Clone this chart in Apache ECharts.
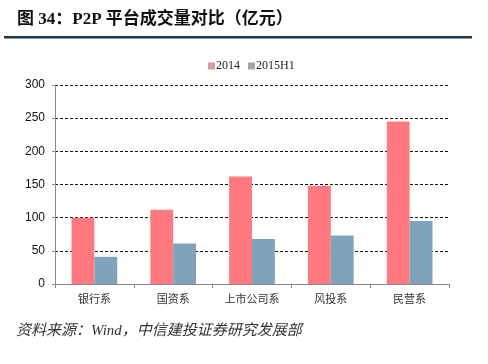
<!DOCTYPE html>
<html>
<head>
<meta charset="utf-8">
<script src="https://cdn.jsdelivr.net/npm/echarts@6/dist/echarts.min.js"></script>
<style>
html,body{margin:0;padding:0;background:#fff;}
#c{width:488px;height:364px;}
</style>
</head>
<body>
<div id="c"></div>
<script>
var categories = ['银行系', '国资系', '上市公司系', '风投系', '民营系'];
var seriesNames = ['2014', '2015H1'];
var values2014 = [100, 112, 162, 148, 245];
var values2015H1 = [41, 61, 68, 73, 95];
var yTicks = [0, 50, 100, 150, 200, 250, 300];

var chart = echarts.init(document.getElementById('c'), null, {renderer: 'canvas'});
var option = {
  backgroundColor: '#ffffff',
  animation: false,
  graphic: [
    {type: 'text', left: 17, top: 11, style: {text: '图 34：P2P 平台成交量对比（亿元）', font: 'bold 17px "Liberation Serif", "Noto Sans CJK SC", serif', fill: '#111'}},
    {type: 'rect', shape: {x: 4, y: 36, width: 468, height: 2.5}, style: {fill: '#1e3a4a'}},
    {type: 'text', left: 16, top: 324, style: {text: '资料来源：Wind，中信建投证券研究发展部', font: 'italic 15px "Liberation Serif", "Noto Sans CJK SC", serif', fill: '#333'}}
  ],
  legend: {
    top: 55, left: 203,
    itemWidth: 7, itemHeight: 7, itemGap: 8,
    icon: 'rect',
    textStyle: {fontFamily: '"Liberation Serif", serif', fontSize: 12, color: '#222', padding: [0, 0, 0, -4]},
    data: [
      {name: seriesNames[0], itemStyle: {color: '#cf9ca0'}},
      {name: seriesNames[1], itemStyle: {color: '#9ea6aa'}}
    ]
  },
  grid: {left: 55, right: 39, top: 85, bottom: 80, containLabel: false},
  xAxis: {
    type: 'category',
    data: categories,
    axisLine: {lineStyle: {color: '#888', width: 1}},
    axisTick: {show: true, alignWithLabel: false, length: 4, lineStyle: {color: '#888'}},
    axisLabel: {color: '#333', fontSize: 11, fontFamily: '"Noto Sans CJK SC", sans-serif', margin: 9}
  },
  yAxis: {
    type: 'value',
    min: 0, max: 300, interval: 50,
    axisLine: {show: true, lineStyle: {color: '#888'}},
    axisTick: {show: true, length: 3, lineStyle: {color: '#888'}},
    axisLabel: {color: '#111', fontSize: 12, fontFamily: '"Liberation Sans", Arial, sans-serif', margin: 10},
    splitLine: {show: true, lineStyle: {color: '#111', type: [3, 2], width: 1}}
  },
  series: [
    {name: seriesNames[0], type: 'bar', data: values2014, barGap: '0%', barCategoryGap: '42%', itemStyle: {color: '#ff7a80'}},
    {name: seriesNames[1], type: 'bar', data: values2015H1, barGap: '0%', barCategoryGap: '42%', itemStyle: {color: '#7ea3bb'}}
  ]
};
chart.setOption(option);
</script>
</body>
</html>
